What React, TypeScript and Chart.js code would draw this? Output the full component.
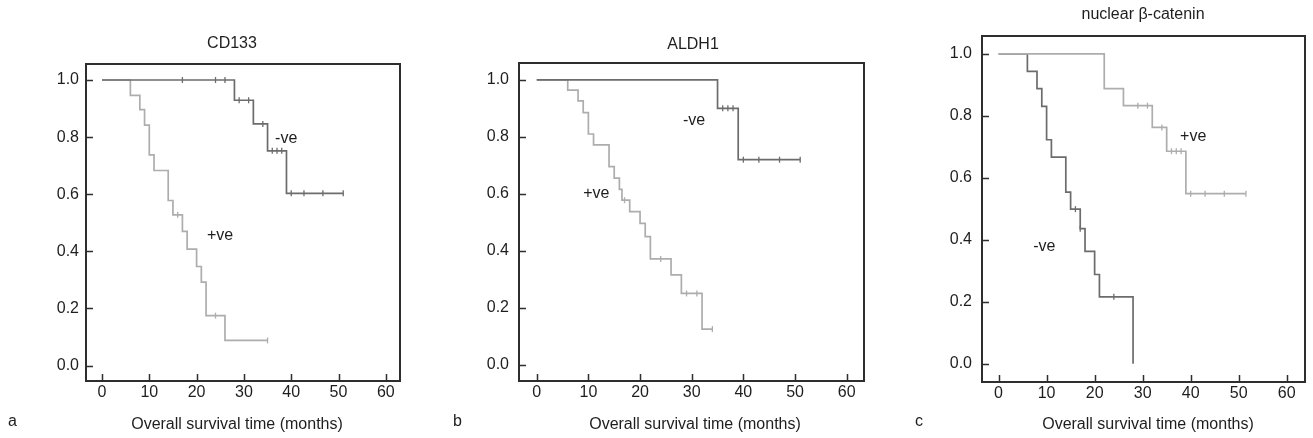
import React, { useEffect, useRef } from "react";
import { Chart, registerables } from "chart.js";

Chart.register(...registerables);

// ---------- data ----------
const xTicks = [0, 10, 20, 30, 40, 50, 60];
const yTicks = [0, 0.2, 0.4, 0.6, 0.8, 1.0];

const panelTitles = ["CD133", "ALDH1", "nuclear β-catenin"];
const panelLetters = ["a", "b", "c"];
const xAxisLabel = "Overall survival time (months)";
const groupNames = ["-ve", "+ve"];

// Panel a: CD133
const aNegTime = [0, 28, 32, 35, 39, 51];
const aNegSurv = [1.0, 0.929, 0.846, 0.752, 0.603, 0.603];
const aNegCensor = [17, 24, 26, 29, 31, 34, 36, 37, 38, 40, 42.7, 46.7, 51];

const aPosTime = [0, 6, 8, 9, 10, 11, 14, 15, 17, 18, 20, 21, 22, 26, 35];
const aPosSurv = [1.0, 0.946, 0.896, 0.842, 0.738, 0.683, 0.578, 0.528, 0.47, 0.408, 0.347, 0.292, 0.175, 0.088, 0.088];
const aPosCensor = [16, 24, 35];

// Panel b: ALDH1
const bNegTime = [0, 35, 39, 51];
const bNegSurv = [1.0, 0.9, 0.72, 0.72];
const bNegCensor = [36, 37, 38, 40, 43, 47, 51];

const bPosTime = [0, 6, 8, 9, 10, 11, 14, 15, 16, 16.5, 18, 20, 21, 22, 26, 28, 32, 34];
const bPosSurv = [1.0, 0.964, 0.926, 0.885, 0.81, 0.772, 0.696, 0.655, 0.616, 0.578, 0.538, 0.497, 0.45, 0.372, 0.316, 0.251, 0.126, 0.126];
const bPosCensor = [17, 24, 29, 31, 34];

// Panel c: nuclear beta-catenin
const cPosTime = [0, 22, 26, 32, 35, 39, 51.5];
const cPosSurv = [1.0, 0.888, 0.833, 0.763, 0.686, 0.549, 0.549];
const cPosCensor = [29, 31, 34, 36, 37, 38, 40, 43, 47, 51.5];

const cNegTime = [0, 6, 8, 9, 10, 11, 14, 15, 17, 18, 20, 21, 28];
const cNegSurv = [1.0, 0.944, 0.888, 0.831, 0.723, 0.667, 0.554, 0.499, 0.436, 0.363, 0.288, 0.216, 0.0];
const cNegCensor = [16, 17, 24];

// ---------- styling ----------
const DARK = "#6c6c6c";
const LIGHT = "#adadad";
const FRAME = "#2e2e2e";
const TEXT = "#1e1e1e";
const FONT = "'Liberation Sans', Arial, sans-serif";

function survivalAt(times: number[], surv: number[], t: number) {
  let s = surv[0];
  for (let i = 0; i < times.length; i++) if (times[i] <= t) s = surv[i];
  return s;
}

type Series = {
  name: string;
  time: number[];
  surv: number[];
  censor: number[];
  color: string;
  labelAt: [number, number];
};

type Panel = {
  left: number;
  width: number;
  area: { left: number; top: number; right: number; bottom: number };
  xRange: [number, number];
  yRange: [number, number];
  yGap: number;
  titlePos: [number, number];
  xLabelPos: [number, number];
  letterPos: [number, number];
  series: Series[];
};

const panels: Panel[] = [
  {
    left: 0,
    width: 440,
    area: { left: 86, top: 64, right: 400, bottom: 381 },
    xRange: [-3.38, 63.0],
    yRange: [-0.054, 1.056],
    yGap: 7,
    titlePos: [232, 44],
    xLabelPos: [237, 425],
    letterPos: [8, 422],
    series: [
      { name: groupNames[0], time: aNegTime, surv: aNegSurv, censor: aNegCensor, color: DARK, labelAt: [36.6, 0.794] },
      { name: groupNames[1], time: aPosTime, surv: aPosSurv, censor: aPosCensor, color: LIGHT, labelAt: [22.2, 0.454] },
    ],
  },
  {
    left: 440,
    width: 440,
    area: { left: 79, top: 63, right: 424, bottom: 381 },
    xRange: [-3.43, 63.35],
    yRange: [-0.056, 1.059],
    yGap: 10,
    titlePos: [253, 45],
    xLabelPos: [255, 425],
    letterPos: [13, 422],
    series: [
      { name: groupNames[0], time: bNegTime, surv: bNegSurv, censor: bNegCensor, color: DARK, labelAt: [28.3, 0.856] },
      { name: groupNames[1], time: bPosTime, surv: bPosSurv, censor: bPosCensor, color: LIGHT, labelAt: [9.0, 0.6] },
    ],
  },
  {
    left: 880,
    width: 433,
    area: { left: 102, top: 36, right: 425, bottom: 382 },
    xRange: [-3.45, 63.8],
    yRange: [-0.059, 1.058],
    yGap: 10,
    titlePos: [263, 15],
    xLabelPos: [268, 425],
    letterPos: [35, 422],
    series: [
      { name: groupNames[1], time: cPosTime, surv: cPosSurv, censor: cPosCensor, color: LIGHT, labelAt: [37.8, 0.734] },
      { name: groupNames[0], time: cNegTime, surv: cNegSurv, censor: cNegCensor, color: DARK, labelAt: [7.2, 0.379] },
    ],
  },
];

function KMPanel({ panel, index }: { panel: Panel; index: number }) {
  const ref = useRef<HTMLCanvasElement>(null);

  useEffect(() => {
    const canvas = ref.current;
    if (!canvas) return;
    const H = 438;
    const { area } = panel;

    const datasets: any[] = [];
    panel.series.forEach((s) => {
      datasets.push({
        label: s.name,
        data: s.time.map((t, i) => ({ x: t, y: s.surv[i] })),
        borderColor: s.color,
        borderWidth: 1.7,
        pointRadius: 0,
        stepped: "before",
        fill: false,
        showLine: true,
      });
      datasets.push({
        label: s.name + " censored",
        data: s.censor.map((t) => ({ x: t, y: survivalAt(s.time, s.surv, t) })),
        showLine: false,
        pointStyle: "line",
        rotation: 90,
        pointRadius: 3,
        pointBorderWidth: 1.3,
        pointBorderColor: s.color,
        borderColor: s.color,
        pointHoverRadius: 3,
      });
    });

    const decor = {
      id: "decor",
      afterDraw(chart: any) {
        const ctx = chart.ctx;
        const ca = chart.chartArea;
        const xs = chart.scales.x;
        const ys = chart.scales.y;
        ctx.save();
        // frame
        ctx.strokeStyle = FRAME;
        ctx.lineWidth = 2;
        ctx.strokeRect(ca.left, ca.top, ca.right - ca.left, ca.bottom - ca.top);
        // inward ticks
        ctx.lineWidth = 1.5;
        ctx.beginPath();
        xTicks.forEach((v) => {
          const px = Math.round(xs.getPixelForValue(v)) + 0.5;
          ctx.moveTo(px, ca.bottom);
          ctx.lineTo(px, ca.bottom - 7);
        });
        yTicks.forEach((v) => {
          const py = Math.round(ys.getPixelForValue(v)) + 0.5;
          ctx.moveTo(ca.left, py);
          ctx.lineTo(ca.left + 7, py);
        });
        ctx.stroke();
        // texts
        ctx.fillStyle = TEXT;
        ctx.font = `16px ${FONT}`;
        ctx.textBaseline = "middle";
        ctx.textAlign = "center";
        ctx.fillText(panelTitles[index], panel.titlePos[0], panel.titlePos[1]);
        ctx.fillText(xAxisLabel, panel.xLabelPos[0], panel.xLabelPos[1]);
        ctx.textAlign = "left";
        ctx.fillText(panelLetters[index], panel.letterPos[0], panel.letterPos[1]);
        panel.series.forEach((s) => {
          ctx.fillText(s.name, xs.getPixelForValue(s.labelAt[0]), ys.getPixelForValue(s.labelAt[1]));
        });
        ctx.restore();
      },
    };

    const chart = new Chart(canvas, {
      type: "line",
      data: { datasets },
      options: {
        animation: false,
        responsive: false,
        events: [],
        layout: {
          padding: { left: 0, top: area.top, right: panel.width - area.right, bottom: 0 },
        },
        plugins: { legend: { display: false }, title: { display: false }, tooltip: { enabled: false } },
        scales: {
          x: {
            type: "linear",
            min: panel.xRange[0],
            max: panel.xRange[1],
            grid: { display: false, drawTicks: false },
            border: { display: false },
            afterBuildTicks: (scale: any) => {
              scale.ticks = xTicks.map((v) => ({ value: v }));
            },
            afterFit: (scale: any) => {
              scale.height = H - area.bottom;
            },
            ticks: {
              autoSkip: false,
              maxRotation: 0,
              padding: 2,
              color: TEXT,
              font: { family: FONT, size: 16 },
              callback: (v: any) => String(v),
            },
          },
          y: {
            type: "linear",
            min: panel.yRange[0],
            max: panel.yRange[1],
            grid: { display: false, drawTicks: false },
            border: { display: false },
            afterBuildTicks: (scale: any) => {
              scale.ticks = yTicks.map((v) => ({ value: v }));
            },
            afterFit: (scale: any) => {
              scale.width = area.left;
            },
            ticks: {
              autoSkip: false,
              padding: panel.yGap,
              color: TEXT,
              font: { family: FONT, size: 16 },
              callback: (v: any) => Number(v).toFixed(1),
            },
          },
        },
      },
      plugins: [decor],
    } as any);

    return () => chart.destroy();
  }, [panel, index]);

  return (
    <canvas
      ref={ref}
      width={panel.width}
      height={438}
      style={{ position: "absolute", left: panel.left, top: 0, width: panel.width, height: 438, display: "block" }}
    />
  );
}

export default function App() {
  return (
    <div style={{ position: "absolute", left: 0, top: 0, width: 1313, height: 438, background: "#ffffff", overflow: "hidden" }}>
      {panels.map((p, i) => (
        <KMPanel key={i} panel={p} index={i} />
      ))}
    </div>
  );
}
